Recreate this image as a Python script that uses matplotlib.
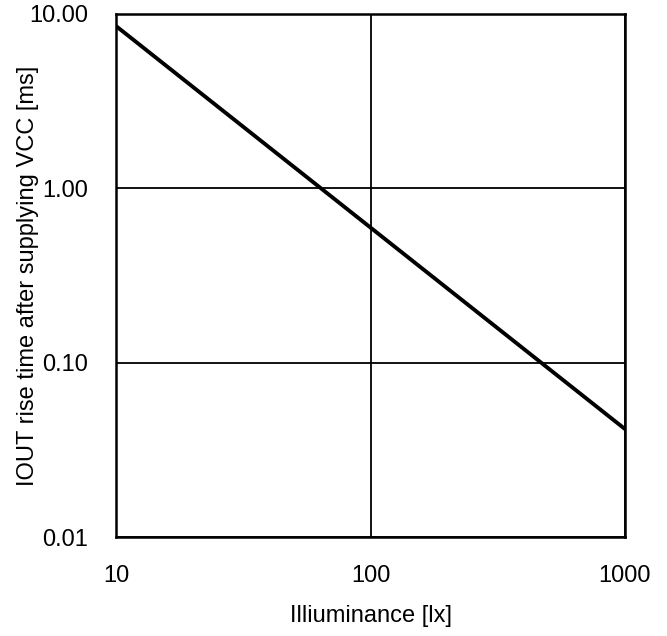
import matplotlib
matplotlib.use('Agg')
import matplotlib.pyplot as plt
from matplotlib.ticker import FixedLocator, FixedFormatter, NullLocator

# -------------------------
# DATA
# -------------------------

illuminance = [10, 1000]
rise_time = [8.53, 0.0416]

x_ticks = [10, 100, 1000]
x_labels = ['10', '100', '1000']
y_ticks = [0.01, 0.1, 1, 10]
y_labels = ['0.01', '0.10', '1.00', '10.00']

plt.rcParams['font.family'] = ['Liberation Sans', 'DejaVu Sans']

fig = plt.figure(figsize=(6.67, 6.36), dpi=100)
ax = fig.add_axes([116 / 667, 1 - 537 / 636, (625 - 116) / 667, (537 - 14) / 636])

ax.plot(illuminance, rise_time, color='black', linewidth=2.8, solid_capstyle='butt', zorder=3)

ax.set_xscale('log')
ax.set_yscale('log')
ax.set_xlim(10, 1000)
ax.set_ylim(0.01, 10)

ax.xaxis.set_major_locator(FixedLocator(x_ticks))
ax.xaxis.set_major_formatter(FixedFormatter(x_labels))
ax.xaxis.set_minor_locator(NullLocator())
ax.yaxis.set_major_locator(FixedLocator(y_ticks))
ax.yaxis.set_major_formatter(FixedFormatter(y_labels))
ax.yaxis.set_minor_locator(NullLocator())

ax.grid(True, which='major', color='black', linewidth=1.3)
ax.tick_params(length=0, labelsize=17, pad=20)
ax.tick_params(axis='y', pad=20)

for s in ax.spines.values():
    s.set_linewidth(1.8)
    s.set_color('black')

ax.set_xlabel('Illiuminance [lx]', fontsize=17)
ax.xaxis.set_label_coords(0.5, -0.13)
ax.set_ylabel('IOUT rise time after supplying VCC [ms]', fontsize=17, va='center')
ax.yaxis.set_label_coords(-0.173, 0.5)

fig.savefig('out.png', dpi=100)
